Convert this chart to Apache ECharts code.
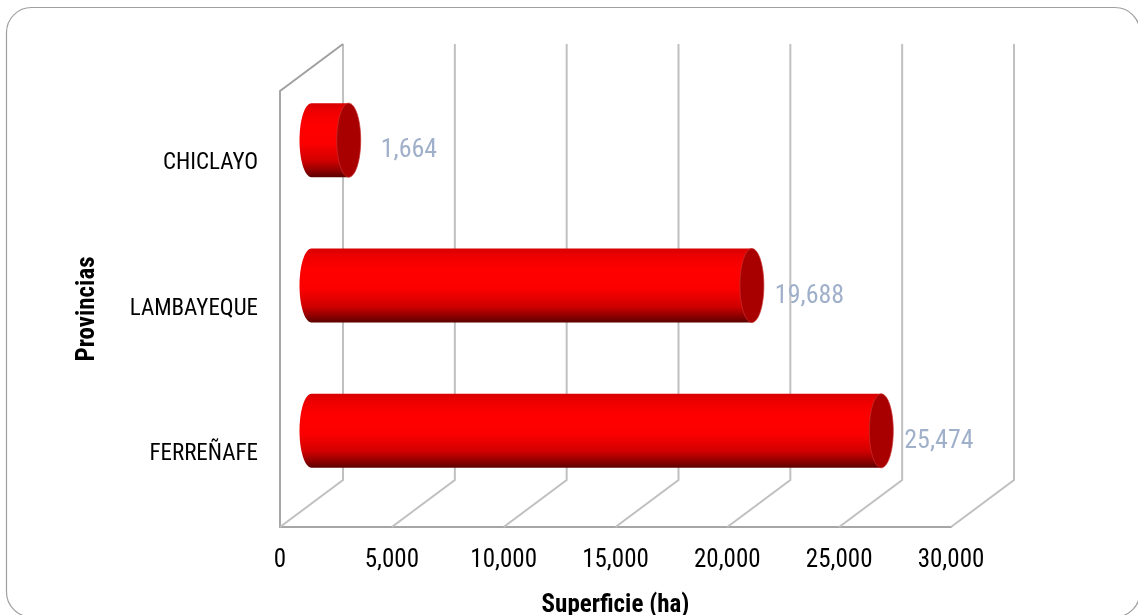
<!DOCTYPE html>
<html><head><meta charset="utf-8">
<style>html,body{margin:0;padding:0;background:#fff}#c{width:1138px;height:615px}</style>
<script src="https://cdn.jsdelivr.net/npm/echarts@6/dist/echarts.min.js"></script>
</head><body><div id="c"></div>
<script>
const categories = ['FERREÑAFE', 'LAMBAYEQUE', 'CHICLAYO'];
const superficie = [25474, 19688, 1664];
const axisTicks = [0, 5000, 10000, 15000, 20000, 25000, 30000];
const FONT = '"Roboto Condensed","Roboto",sans-serif';
const DX = 63, DY = -47;
const chart = echarts.init(document.getElementById('c'), null, {renderer:'canvas'});
const fmt = v => v.toLocaleString('en-US');

function renderWall(params, api) {
  const v = api.value(0);
  const p = api.coord([v, 0]);
  const x = p[0], b = params.coordSys.y + params.coordSys.height, t = params.coordSys.y;
  const first = v === 0;
  const kids = [{
    type:'polyline', shape:{points:[[x,b],[x+DX,b+DY],[x+DX,t+DY]]},
    style:{fill:null, stroke:'#c0c0c0', lineWidth:2}
  }];
  if (first) kids.push({
    type:'polyline', shape:{points:[[x,t],[x+DX,t+DY]]},
    style:{fill:null, stroke:'#a0a0a0', lineWidth:2}
  });
  return {type:'group', children:kids};
}

function renderCyl(params, api) {
  const val = api.value(0), cat = api.value(1);
  const z = api.coord([0, cat]), e = api.coord([val, cat]);
  const xl = z[0] + DX/2, xr = e[0] + DX/2, cy = z[1] + DY/2;
  const ry = 37, rx = 12;
  const grad = new echarts.graphic.LinearGradient(0,0,0,1,[
    {offset:0, color:'#d80000'},{offset:0.12,color:'#f00000'},{offset:0.3,color:'#ff0000'},
    {offset:0.55,color:'#fb0000'},{offset:0.78,color:'#d00000'},{offset:0.92,color:'#8a0000'},{offset:1,color:'#5a0000'}
  ]);
  const k = 0.5523;
  const body = `M${xl} ${cy-ry}L${xr} ${cy-ry}L${xr} ${cy+ry}L${xl} ${cy+ry}C${xl-rx*k} ${cy+ry} ${xl-rx} ${cy+ry*k} ${xl-rx} ${cy}C${xl-rx} ${cy-ry*k} ${xl-rx*k} ${cy-ry} ${xl} ${cy-ry}Z`;
  return {type:'group', children:[
    {type:'path', shape:{pathData:body}, style:{fill:grad, stroke:null}},
    {type:'ellipse', shape:{cx:xr, cy:cy, rx:rx, ry:ry}, style:{fill:'#a80000', stroke:'#c83030', lineWidth:0.7}},
    {type:'text', style:{text:fmt(val), x:xr+rx+(cat===2?20:11), y:cy+10.5, fill:'#a0b0ca', font:'normal condensed 26px '+FONT, align:'left', verticalAlign:'middle'}}
  ]};
}

chart.setOption({
  animation:false,
  backgroundColor:'#ffffff',
  graphic:[{type:'rect', silent:true, z:-10, shape:{x:6.5,y:7.5,width:1133.5,height:609.5,r:25}, style:{fill:'#fff',stroke:'#a0a0a0',lineWidth:1.2}}],
  grid:{left:280, top:91, width:671, height:436, containLabel:false, outerBoundsMode:'none'},
  xAxis:{type:'value', min:0, max:30000, interval:5000, splitLine:{show:false},
    axisLine:{show:true, lineStyle:{color:'#a6a6a6', width:2}}, axisTick:{show:false},
    axisLabel:{color:'#000', fontWeight:'condensed', fontFamily:FONT, fontSize:25, margin:21, formatter:v=>fmt(v)},
    name:'Superficie (ha)', nameLocation:'middle', nameGap:66,
    nameTextStyle:{color:'#000', fontFamily:FONT, fontSize:25, fontWeight:'bold'}},
  yAxis:{type:'category', data:categories, axisLine:{show:true, lineStyle:{color:'#a6a6a6', width:2}}, axisTick:{show:false},
    axisLabel:{color:'#000', fontWeight:'condensed', fontFamily:FONT, fontSize:23, margin:22},
    name:'Provincias', nameLocation:'middle', nameGap:180, nameRotate:90,
    nameTextStyle:{color:'#000', fontFamily:FONT, fontSize:25, fontWeight:'bold'}},
  series:[
    {type:'custom', name:'muros', clip:false, z:1, silent:true, renderItem:renderWall, data:axisTicks.map(v=>[v]), encode:{x:0}},
    {type:'custom', name:'Superficie', clip:false, z:2, renderItem:renderCyl, data:superficie.map((v,i)=>[v,i]), encode:{x:0,y:1}}
  ]
});
</script></body></html>
